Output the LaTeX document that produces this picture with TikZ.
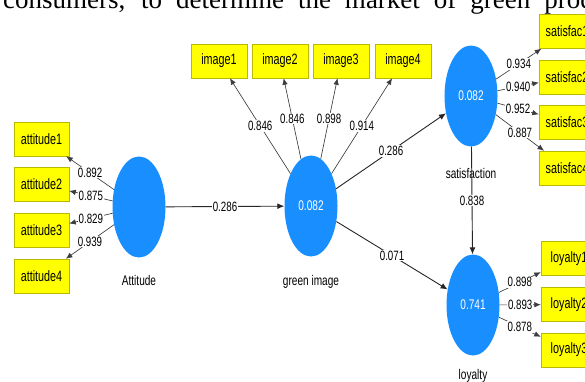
\documentclass[tikz,border=0pt]{standalone}
\usepackage{fontspec}
\usetikzlibrary{shapes.geometric,arrows.meta}
\newfontfamily\labfont[FakeStretch=0.72]{Liberation Sans}
\newfontfamily\serfont{Liberation Serif}
\definecolor{lvblue}{RGB}{25,142,255}
\definecolor{boxyellow}{RGB}{255,255,0}
\definecolor{boxedge}{RGB}{185,185,0}
\definecolor{linegray}{RGB}{60,60,60}
\begin{document}
\begin{tikzpicture}[x=1pt,y=-1pt,
  lv/.style={ellipse, fill=lvblue, minimum width=53pt, minimum height=101pt, inner sep=0pt, text=white, font=\labfont\fontsize{14}{14}\selectfont},
  ind/.style={rectangle, fill=boxyellow, draw=boxedge, line width=0.5pt, minimum width=56pt, minimum height=34pt, inner sep=0pt, font=\labfont\fontsize{15}{15}\selectfont},
  lvname/.style={font=\labfont\fontsize{14}{14}\selectfont, inner sep=0pt},
  mlink/.style={draw=linegray, line width=0.65pt, -{Latex[length=6.5pt,width=5.5pt]}},
  slink/.style={draw=black!85, line width=0.9pt, -{Latex[length=7pt,width=6pt]}},
  coef/.style={midway, fill=white, inner sep=0.8pt, font=\labfont\fontsize{13.5}{13.5}\selectfont}]
\useasboundingbox (0,0) rectangle (585,381);
\clip (0,0) rectangle (585,381);

% cropped line of text at the top
\node[anchor=base west, inner sep=0pt, font=\serfont\fontsize{27}{27}\selectfont] (topline) at (3,8)
  {\makebox[634pt][s]{consumers, to determine the market of green products}};

% latent variables
\node[lv] (att) at (139,207) {};
\node[lv] (gi) at (311,206) {0.082};
\node[lv] (sat) at (471,96) {0.082};
\node[lv] (loy) at (473,305) {0.741};

\node[lvname] (attname) at (139,280) {Attitude};
\node[lvname] (giname) at (311,282) {green image};
\node[lvname] (satname) at (471,173) {satisfaction};
\node[lvname] (loyname) at (473,376) {loyalty};

% indicators
\node[ind, minimum width=55pt] (a1) at (41.5,139) {attitude1};
\node[ind, minimum width=55pt] (a2) at (41.5,184.5) {attitude2};
\node[ind, minimum width=55pt] (a3) at (41.5,230) {attitude3};
\node[ind, minimum width=55pt] (a4) at (41.5,276) {attitude4};

\node[ind] (i1) at (219,61) {image1};
\node[ind] (i2) at (280,61) {image2};
\node[ind] (i3) at (341,61) {image3};
\node[ind] (i4) at (403,61) {image4};

\node[ind] (s1) at (567,31.5) {satisfac1};
\node[ind] (s2) at (567,77) {satisfac2};
\node[ind] (s3) at (567,122) {satisfac3};
\node[ind] (s4) at (567,168) {satisfac4};

\node[ind] (l1) at (569,258.5) {loyalty1};
\node[ind] (l2) at (569,304.5) {loyalty2};
\node[ind] (l3) at (569,350) {loyalty3};

% outer loadings
\draw[mlink] (att) -- node[coef]{0.892} (a1);
\draw[mlink] (att) -- node[coef]{0.875} (a2);
\draw[mlink] (att) -- node[coef]{0.829} (a3);
\draw[mlink] (att) -- node[coef]{0.939} (a4);

\draw[mlink] (gi) -- node[coef]{0.846} (i1);
\draw[mlink] (gi) -- node[coef]{0.846} (i2);
\draw[mlink] (gi) -- node[coef]{0.898} (i3);
\draw[mlink] (gi) -- node[coef]{0.914} (i4);

\draw[mlink] (sat) -- node[coef]{0.934} (s1);
\draw[mlink] (sat) -- node[coef]{0.940} (s2);
\draw[mlink] (sat) -- node[coef]{0.952} (s3);
\draw[mlink] (sat) -- node[coef]{0.887} (s4);

\draw[mlink] (loy) -- node[coef]{0.898} (l1);
\draw[mlink] (loy) -- node[coef]{0.893} (l2);
\draw[mlink] (loy) -- node[coef]{0.878} (l3);

% path coefficients
\draw[slink] (att) -- node[coef]{0.286} (gi);
\draw[slink] (gi) -- node[coef]{0.286} (sat);
\draw[slink] (gi) -- node[coef]{0.071} (loy);
\draw[slink] (sat) -- node[coef]{0.838} (loy);
\end{tikzpicture}
\end{document}
